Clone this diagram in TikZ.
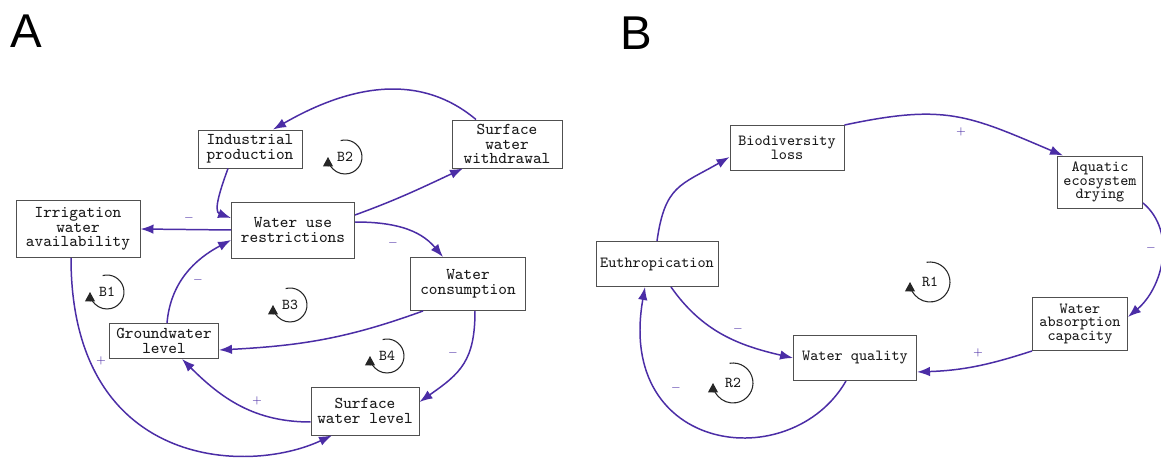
\documentclass[tikz,border=0pt]{standalone}
\usepackage{fontspec}
\setmainfont{Liberation Serif}
\setsansfont{Liberation Sans}
\usepackage{tikz}
\usetikzlibrary{arrows.meta,positioning,calc}
\definecolor{linkc}{HTML}{4B2DA6}
\definecolor{boxline}{HTML}{505050}
\definecolor{txt}{HTML}{1A1A1A}
\tikzset{
  var/.style={draw=boxline, line width=0.55pt, fill=white, inner sep=0pt, align=center,
              text=txt, font=\ttfamily\fontsize{9.4}{8.4}\selectfont},
  varb/.style={var, font=\ttfamily\fontsize{8.8}{7.7}\selectfont},
  link/.style={-{Latex[length=2.6mm,width=1.9mm]}, line width=0.85pt, draw=linkc},
  sign/.style={text=linkc, inner sep=0pt, font=\fontsize{6.5}{6.5}\selectfont},
  looptag/.style={inner sep=0pt, text=txt, font=\ttfamily\fontsize{8.6}{8.6}\selectfont},
  loopmark/.style={-{Triangle[length=1.9mm,width=2mm]}, line width=0.6pt, draw=black!85},
  panel/.style={inner sep=0pt, font=\sffamily\fontsize{27}{27}\selectfont}
}

\begin{document}
\begin{tikzpicture}[x=0.02cm, y=0.02cm]
  \useasboundingbox[fill=white] (0,0) rectangle (1161,457);

  \node[panel] (pa) at (26,426) {A};
  \node[panel] (pb) at (636,424) {B};

  % panel A
  \node[var, minimum width=2.08cm, minimum height=0.76cm] (ind) at (250,308) {Industrial\\production};
  \node[var, minimum width=2.2cm, minimum height=0.96cm] (sww) at (507,313) {Surface\\water\\withdrawal};
  \node[var, minimum width=2.48cm, minimum height=1.14cm] (irr) at (78,228) {Irrigation\\water\\availability};
  \node[var, minimum width=2.46cm, minimum height=1.12cm] (wur) at (293,227) {Water use\\restrictions};
  \node[var, minimum width=2.3cm, minimum height=1.06cm] (wco) at (468,173) {Water\\consumption};
  \node[var, minimum width=2.18cm, minimum height=0.7cm] (gwl) at (164,116) {Groundwater\\level};
  \node[var, minimum width=2.16cm, minimum height=0.96cm] (swl) at (365,46) {Surface\\water level};

  \draw[link] ([xshift=-0.62cm]sww.north) to[out=140,in=30] ([xshift=0.46cm]ind.north);
  \draw[link] ([xshift=-0.44cm]ind.south) to[out=250,in=160] ([yshift=0.24cm]wur.west);
  \draw[link] (wur.west) -- (irr.east);
  \draw[link] ([yshift=0.3cm]wur.east) to[out=20,in=205] ([xshift=-0.88cm]sww.south);
  \draw[link] ([yshift=0.16cm]wur.east) to[out=0,in=130] ([xshift=-0.5cm]wco.north);
  \draw[link] ([xshift=-0.9cm]wco.south) to[out=200,in=3] ([yshift=-0.18cm]gwl.east);
  \draw[link] ([xshift=0.14cm]wco.south) to[out=-90,in=35,looseness=1.2] ([yshift=0.18cm]swl.east);
  \draw[link] ([yshift=-0.22cm]swl.west) to[out=180,in=-45] ([xshift=0.36cm]gwl.south);
  \draw[link] ([xshift=0.06cm]gwl.north) to[out=85,in=208] ([yshift=-0.2cm]wur.west);
  \draw[link] ([xshift=-0.14cm]irr.south) to[out=-90,in=205,out distance=4.2cm,in distance=1.9cm] ([xshift=-0.66cm]swl.south);

  \node[sign] (s1) at (189,239) {$-$};
  \node[sign] (s2) at (393,214) {$-$};
  \node[sign] (s3) at (453,104) {$-$};
  \node[sign] (s4) at (257,56) {$+$};
  \node[sign] (s5) at (198,177) {$-$};
  \node[sign] (s6) at (101,96) {$+$};

  \node[looptag] (b1) at (107,165) {B1};
  \node[looptag] (b2) at (345,300) {B2};
  \node[looptag] (b3) at (290,152) {B3};
  \node[looptag] (b4) at (387,101) {B4};
  \foreach \lp in {b1,b2,b3,b4}
    \draw[loopmark] ($(\lp)+(105:0.34cm)$) arc[start angle=105,end angle=-180,radius=0.34cm];

  % panel B
  \node[varb, minimum width=2.28cm, minimum height=0.9cm] (bio) at (787,309) {Biodiversity\\loss};
  \node[varb, minimum width=1.7cm, minimum height=1.04cm] (aqu) at (1100,275) {Aquatic\\ecosystem\\drying};
  \node[varb, minimum width=2.44cm, minimum height=0.9cm] (eut) at (657,193) {Euthropication};
  \node[varb, minimum width=1.9cm, minimum height=1.06cm] (wac) at (1080,133) {Water\\absorption\\capacity};
  \node[varb, minimum width=2.46cm, minimum height=0.9cm] (wqu) at (855,99) {Water quality};

  \draw[link] (eut.north) to[out=82,in=210,looseness=1.3] ([yshift=-0.18cm]bio.west);
  \draw[link] (bio.north east) to[out=12,in=157,looseness=1.2] ([xshift=-0.74cm]aqu.north);
  \draw[link] ([yshift=-0.42cm]aqu.east) to[out=-40,in=40] ([yshift=0.14cm]wac.east);
  \draw[link] (wac.south west) to[out=198,in=2] ([yshift=-0.28cm]wqu.east);
  \draw[link] ([xshift=0.28cm]eut.south) to[out=-55,in=167] (wqu.west);
  \draw[link] ([xshift=-0.18cm]wqu.south) to[out=-120,in=-100,out distance=2.2cm,in distance=3.4cm] ([xshift=-0.24cm]eut.south);

  \node[sign] (s7) at (961,325) {$+$};
  \node[sign] (s8) at (1151,209) {$-$};
  \node[sign] (s9) at (978,104) {$+$};
  \node[sign] (s10) at (738,128) {$-$};
  \node[sign] (s11) at (676,69) {$-$};

  \node[looptag] (r1) at (930,175) {R1};
  \node[looptag] (r2) at (733,74) {R2};
  \foreach \lp in {r1,r2}
    \draw[loopmark] ($(\lp)+(100:0.4cm)$) arc[start angle=100,end angle=-180,radius=0.4cm];
\end{tikzpicture}
\end{document}
